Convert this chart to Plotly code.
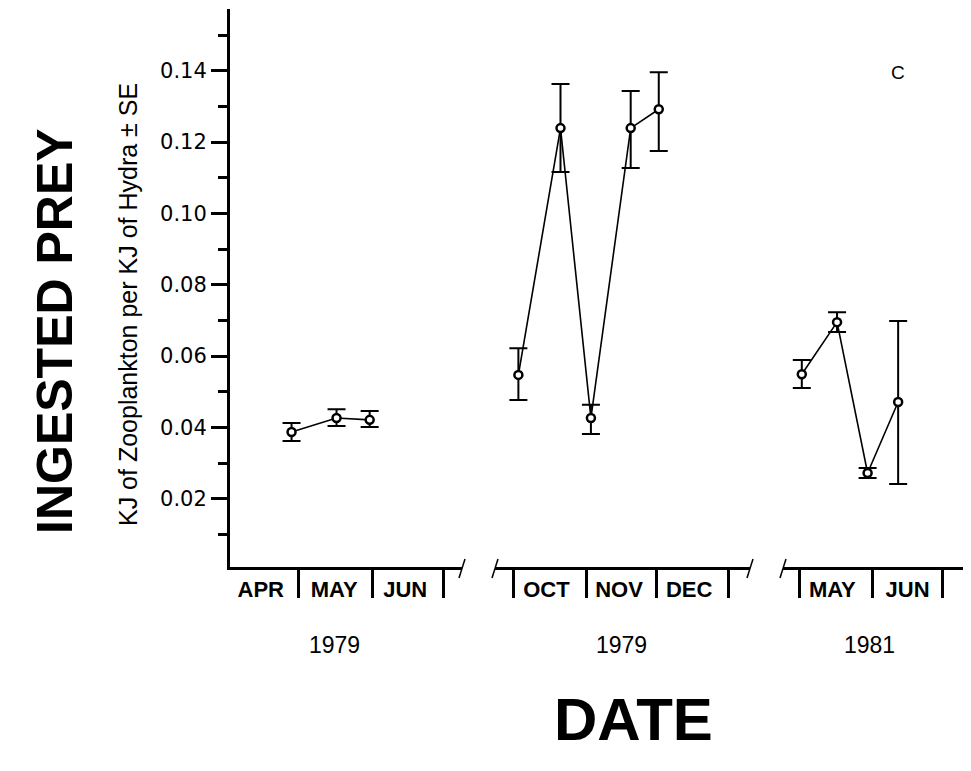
import plotly.graph_objects as go

# ---------------- data ----------------
# Segment 1: Apr-Jun 1979
dates_1979a = ["1979-04-28", "1979-05-17", "1979-05-31"]
prey_1979a = [0.0387, 0.0426, 0.0421]
se_up_1979a = [0.0025, 0.0025, 0.0025]
se_dn_1979a = [0.0025, 0.0022, 0.0020]

# Segment 2: Oct-Dec 1979
dates_1979b = ["1979-10-03", "1979-10-21", "1979-11-03", "1979-11-20", "1979-12-02"]
prey_1979b = [0.0547, 0.1239, 0.0426, 0.1239, 0.1292]
se_up_1979b = [0.0075, 0.0124, 0.0037, 0.0104, 0.0104]
se_dn_1979b = [0.0070, 0.0123, 0.0045, 0.0112, 0.0117]

# Segment 3: May-Jun 1981
dates_1981 = ["1981-05-02", "1981-05-17", "1981-05-30", "1981-06-12"]
prey_1981 = [0.0549, 0.0695, 0.0272, 0.0471]
se_up_1981 = [0.0040, 0.0028, 0.0014, 0.0227]
se_dn_1981 = [0.0039, 0.0028, 0.0014, 0.0230]

# axis labels
month_ticks_1 = ["1979-04-15", "1979-05-16", "1979-06-15"]
month_text_1 = ["APR", "MAY", "JUN"]
month_bounds_1 = ["1979-05-01", "1979-06-01", "1979-07-01"]
range_1 = ["1979-04-02", "1979-07-09"]

month_ticks_2 = ["1979-10-15", "1979-11-15", "1979-12-15"]
month_text_2 = ["OCT", "NOV", "DEC"]
month_bounds_2 = ["1979-10-01", "1979-11-01", "1979-12-01", "1980-01-01"]
range_2 = ["1979-09-23", "1980-01-10"]

month_ticks_3 = ["1981-05-15", "1981-06-16"]
month_text_3 = ["MAY", "JUN"]
month_bounds_3 = ["1981-05-01", "1981-06-01", "1981-07-01"]
range_3 = ["1981-04-24", "1981-07-13"]

year_labels = ["1979", "1979", "1981"]
year_pos = ["1979-05-16", "1979-11-16", "1981-05-31"]

y_range = [0.00084, 0.1573]

# ---------------- figure ----------------
fig = go.Figure()

segments = [
    (dates_1979a, prey_1979a, se_up_1979a, se_dn_1979a, "x"),
    (dates_1979b, prey_1979b, se_up_1979b, se_dn_1979b, "x2"),
    (dates_1981, prey_1981, se_up_1981, se_dn_1981, "x3"),
]
for xs, ys, up, dn, xa in segments:
    fig.add_trace(go.Scatter(
        x=xs, y=ys, xaxis=xa, yaxis="y",
        mode="lines+markers",
        line=dict(color="black", width=1.6),
        marker=dict(symbol="circle", size=8, color="white",
                    line=dict(color="black", width=2.5)),
        error_y=dict(type="data", symmetric=False, array=up, arrayminus=dn,
                     color="black", thickness=2, width=9),
        showlegend=False, hoverinfo="skip",
    ))

tick_font = dict(family="Liberation Sans", size=22, color="black", weight="bold")

def xaxis_cfg(domain, rng, tv, tt, bounds):
    return dict(
        type="date", domain=domain, range=rng, anchor="y",
        showline=True, linecolor="black", linewidth=3,
        showgrid=False, zeroline=False,
        tickmode="array", tickvals=tv, ticktext=tt, ticks="",
        ticklabelstandoff=1,
        tickfont=tick_font,
        minor=dict(tickmode="array", tickvals=bounds, ticks="outside",
                   ticklen=28, tickwidth=3, tickcolor="black", showgrid=False),
        fixedrange=True,
    )

# plot area on screen: x 230..971, y 9..567 (page has an 8px body margin)
W = 741.0
H = 558.0
fig.update_layout(
    width=971, height=771,
    margin=dict(l=222, r=8, t=1, b=212),
    paper_bgcolor="white", plot_bgcolor="white",
    showlegend=False,
    xaxis=xaxis_cfg([0, 232 / W], range_1, month_ticks_1, month_text_1, month_bounds_1),
    xaxis2=xaxis_cfg([265 / W, 520 / W], range_2, month_ticks_2, month_text_2, month_bounds_2),
    xaxis3=xaxis_cfg([553 / W, 1.0], range_3, month_ticks_3, month_text_3, month_bounds_3),
    yaxis=dict(
        range=y_range, anchor="x",
        showline=True, linecolor="black", linewidth=3,
        showgrid=False, zeroline=False,
        tickmode="linear", tick0=0, dtick=0.02, tickformat=".2f",
        ticks="outside", ticklen=16, tickwidth=3, tickcolor="black",
        tickfont=dict(family="DejaVu Sans", size=21, color="black"),
        minor=dict(tickmode="linear", tick0=0.01, dtick=0.02, ticks="outside",
                   ticklen=9, tickwidth=2.5, tickcolor="black", showgrid=False),
        fixedrange=True,
    ),
)

# axis break slashes
for xref, side in [("x domain", 1), ("x2 domain", 0), ("x2 domain", 1), ("x3 domain", 0)]:
    fig.add_shape(type="line", xref=xref, yref="paper",
                  xsizemode="pixel", xanchor=side, x0=-3, x1=3,
                  ysizemode="pixel", yanchor=0, y0=-11, y1=8,
                  line=dict(color="black", width=1.5))

# year labels
for xa, lab, pos in zip(["x", "x2", "x3"], year_labels, year_pos):
    fig.add_annotation(text=lab, x=pos, xref=xa, y=(567 - 645) / H, yref="paper",
                       showarrow=False, xanchor="center", yanchor="middle",
                       font=dict(family="Liberation Sans", size=23, color="black"))

fig.add_annotation(text="DATE", x=(633 - 230) / W, y=(567 - 719) / H,
                   xref="paper", yref="paper", showarrow=False,
                   xanchor="center", yanchor="middle",
                   font=dict(family="Liberation Sans", size=60, color="black", weight="bold"))

fig.add_annotation(text="C", x=(898 - 230) / W, y=(567 - 73) / H,
                   xref="paper", yref="paper", showarrow=False,
                   xanchor="center", yanchor="middle",
                   font=dict(family="Liberation Sans", size=19, color="black"))

fig.add_annotation(text="KJ of Zooplankton per KJ of Hydra ± SE",
                   x=(128 - 230) / W, y=(567 - 305) / H,
                   xref="paper", yref="paper", showarrow=False, textangle=-90,
                   xanchor="center", yanchor="middle",
                   font=dict(family="Liberation Sans", size=25, color="black"))

fig.add_annotation(text="INGESTED PREY",
                   x=(55 - 230) / W, y=(567 - 331) / H,
                   xref="paper", yref="paper", showarrow=False, textangle=-90,
                   xanchor="center", yanchor="middle",
                   font=dict(family="Liberation Sans", size=50, color="black", weight="bold"))

fig.write_html("out.html")
